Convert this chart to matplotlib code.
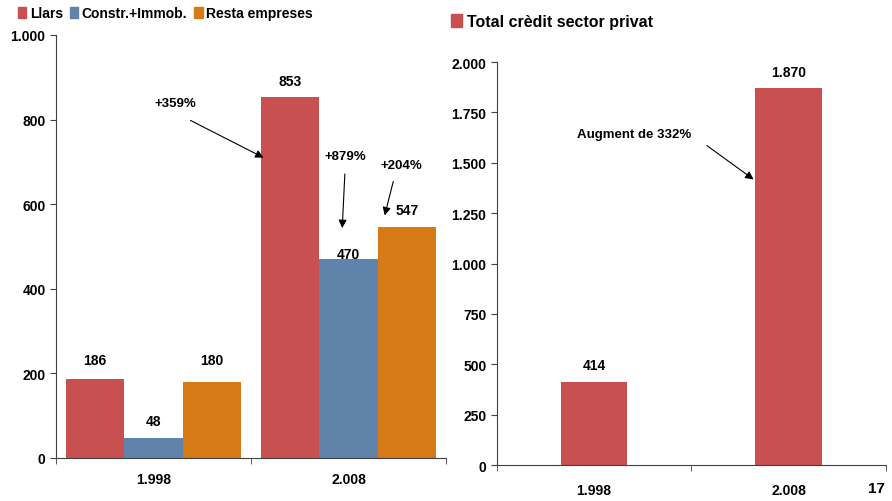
import numpy as np
import matplotlib.pyplot as plt
from matplotlib.patches import Patch

plt.rcParams['font.family'] = ['Liberation Sans', 'DejaVu Sans']
plt.rcParams['font.weight'] = 'bold'

# data
years = ['1.998', '2.008']
llars = [186, 853]
constr = [48, 470]
resta = [180, 547]
total = [414, 1870]

red = '#C85050'
blue = '#6083AA'
orange = '#D57A17'
spine_col = '#404040'


def thousands(v, pos=None):
    return f'{int(v):,}'.replace(',', '.')


def style_axes(ax, ymax, step, xpad):
    for s in ['top', 'right']:
        ax.spines[s].set_visible(False)
    for s in ['left', 'bottom']:
        ax.spines[s].set_color(spine_col)
    ax.set_xlim(-0.5, 1.5)
    ax.set_ylim(0, ymax)
    ax.set_yticks(np.arange(0, ymax + 1, step))
    ax.yaxis.set_major_formatter(plt.FuncFormatter(thousands))
    ax.set_xticks([0, 1])
    ax.set_xticklabels(years)
    ax.set_xticks([-0.5, 0.5, 1.5], minor=True)
    ax.tick_params(axis='x', which='major', length=0, pad=xpad, labelsize=10)
    ax.tick_params(axis='x', which='minor', length=4, color=spine_col)
    ax.tick_params(axis='y', length=4, color=spine_col, labelsize=10)
    for lab in ax.get_xticklabels() + ax.get_yticklabels():
        lab.set_fontweight('bold')


fig = plt.figure(figsize=(8.92, 5.02), dpi=100)

# left chart
ax1 = fig.add_axes([0.0628, 0.0857, 0.4372, 0.8426])
x = np.arange(len(years))
w = 0.3
b1 = ax1.bar(x - w, llars, w, color=red)
b2 = ax1.bar(x, constr, w, color=blue)
b3 = ax1.bar(x + w, resta, w, color=orange)
style_axes(ax1, 1000, 200, 10)

offs = {0: [14, 12, 16], 1: [12, 4, 12]}
for i in range(len(years)):
    for j, (bars, vals) in enumerate([(b1, llars), (b2, constr), (b3, resta)]):
        r = bars[i]
        ax1.annotate(str(vals[i]), (r.get_x() + r.get_width() / 2, vals[i]),
                     xytext=(0, offs[i][j]), textcoords='offset points',
                     ha='center', va='center', fontsize=10, fontweight='bold')

arrow = dict(arrowstyle='-|>', color='black', lw=0.8, mutation_scale=12)
ax1.annotate('', xy=(0.577, 707), xytext=(0.177, 801), arrowprops=arrow)
ax1.text(0.11, 839, '+359%', ha='center', va='center', fontsize=9.5, fontweight='bold')
ax1.annotate('', xy=(0.967, 537), xytext=(0.982, 678), arrowprops=arrow)
ax1.text(0.982, 714, '+879%', ha='center', va='center', fontsize=9.5, fontweight='bold')
ax1.annotate('', xy=(1.182, 567), xytext=(1.233, 660), arrowprops=arrow)
ax1.text(1.269, 693, '+204%', ha='center', va='center', fontsize=9.5, fontweight='bold')

fig.legend(handles=[Patch(color=red, label='Llars'),
                    Patch(color=blue, label='Constr.+Immob.'),
                    Patch(color=orange, label='Resta empreses')],
           loc='center left', bbox_to_anchor=(0.014, 0.972), ncol=3, frameon=False,
           handlelength=0.6, handleheight=0.8, handletextpad=0.25, columnspacing=0.5,
           borderaxespad=0, prop={'weight': 'bold', 'size': 10})

# right chart
ax2 = fig.add_axes([0.557, 0.0717, 0.436, 0.8028])
b4 = ax2.bar(x, total, 0.34, color=red)
style_axes(ax2, 2000, 250, 13)
for r, v in zip(b4, total):
    ax2.annotate(thousands(v), (r.get_x() + r.get_width() / 2, v),
                 xytext=(0, 12), textcoords='offset points',
                 ha='center', va='center', fontsize=10, fontweight='bold')
ax2.annotate('', xy=(0.832, 1409), xytext=(0.569, 1593), arrowprops=arrow)
ax2.text(0.204, 1643, 'Augment de 332%', ha='center', va='center', fontsize=9.5,
         fontweight='bold')

fig.legend(handles=[Patch(color=red, label='Total crèdit sector privat')],
           loc='center left', bbox_to_anchor=(0.498, 0.956), frameon=False,
           handlelength=0.7, handleheight=0.9, handletextpad=0.3,
           borderaxespad=0, prop={'weight': 'bold', 'size': 11.5})

fig.text(0.983, 0.025, '17', ha='center', va='center', fontsize=11, fontweight='bold')

fig.savefig('out.png', dpi=100)
